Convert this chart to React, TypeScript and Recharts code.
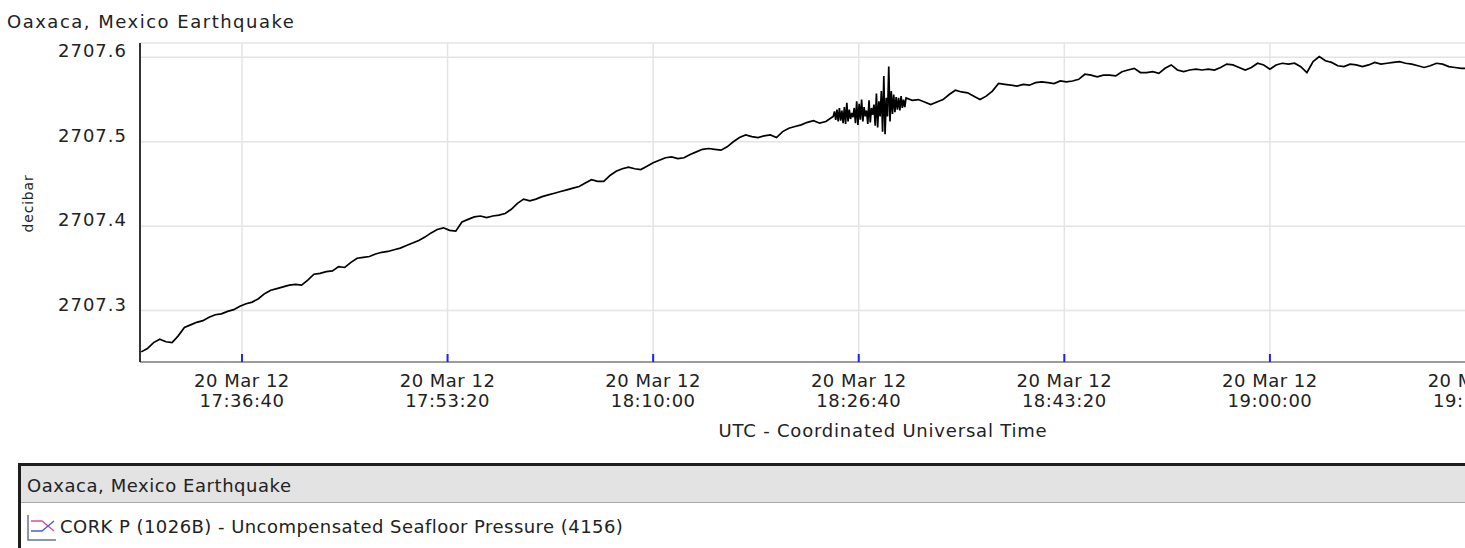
import React from "react";
import { LineChart, Line, XAxis, YAxis, CartesianGrid } from "recharts";

const FONT = "'DejaVu Sans', Verdana, sans-serif";

const CHART_TITLE = "Oaxaca, Mexico Earthquake";
const SERIES_NAME = "CORK P (1026B) - Uncompensated Seafloor Pressure (4156)";
const Y_LABEL = "decibar";
const X_LABEL = "UTC - Coordinated Universal Time";
const DATE_LABEL = "20 Mar 12";

// time axis is seconds of the day (UTC), 20 Mar 2012
const X_DOMAIN: [number, number] = [62904, 70132];
const X_TICKS = [63400, 64400, 65400, 66400, 67400, 68400, 69400];
const Y_DOMAIN: [number, number] = [2707.239, 2707.617];
const Y_TICKS = [2707.3, 2707.4, 2707.5, 2707.6];

// slow rise before the shaking, one sample per 30 s
const PRE_START = 62910;
const PRE_STEP = 30;
const preQuake = [
  2707.251, 2707.255, 2707.262, 2707.266, 2707.263, 2707.262, 2707.27, 2707.28, 2707.283, 2707.286,
  2707.288, 2707.292, 2707.295, 2707.296, 2707.299, 2707.301, 2707.305, 2707.308, 2707.31, 2707.314,
  2707.32, 2707.324, 2707.326, 2707.328, 2707.33, 2707.331, 2707.33, 2707.336, 2707.343, 2707.344,
  2707.346, 2707.347, 2707.352, 2707.351, 2707.357, 2707.362, 2707.363, 2707.364, 2707.367, 2707.369,
  2707.37, 2707.372, 2707.374, 2707.377, 2707.38, 2707.383, 2707.387, 2707.392, 2707.396, 2707.398,
  2707.395, 2707.394, 2707.405, 2707.408, 2707.411, 2707.412, 2707.41, 2707.412, 2707.413, 2707.415,
  2707.42, 2707.427, 2707.432, 2707.43, 2707.432, 2707.435, 2707.437, 2707.439, 2707.441, 2707.443,
  2707.445, 2707.447, 2707.451, 2707.455, 2707.453, 2707.453, 2707.46, 2707.465, 2707.468, 2707.47,
  2707.468, 2707.467, 2707.471, 2707.475, 2707.478, 2707.481, 2707.482, 2707.48, 2707.481, 2707.485,
  2707.488, 2707.491, 2707.492, 2707.491, 2707.49, 2707.494, 2707.5, 2707.505, 2707.508, 2707.506,
  2707.505, 2707.507, 2707.508, 2707.505, 2707.512, 2707.516, 2707.518, 2707.52, 2707.523, 2707.525,
  2707.522, 2707.524, 2707.529,
];

// seismic oscillation, one sample per 6 s
const QUAKE_START = 66276;
const QUAKE_STEP = 6;
const quake = [
  2707.53, 2707.536, 2707.526, 2707.538, 2707.524, 2707.54, 2707.525, 2707.537, 2707.522, 2707.541,
  2707.521, 2707.546, 2707.524, 2707.538, 2707.527, 2707.534, 2707.529, 2707.54, 2707.522, 2707.548,
  2707.52, 2707.545, 2707.526, 2707.55, 2707.524, 2707.541, 2707.53, 2707.537, 2707.521, 2707.549,
  2707.523, 2707.54, 2707.532, 2707.544, 2707.519, 2707.557, 2707.517, 2707.548, 2707.53, 2707.56,
  2707.512, 2707.578, 2707.509, 2707.552, 2707.53, 2707.589, 2707.524, 2707.56, 2707.533, 2707.556,
  2707.535, 2707.553, 2707.538, 2707.552, 2707.537, 2707.554, 2707.54, 2707.55, 2707.541, 2707.552,
];

// levelling off afterwards, one sample per 30 s
const POST_START = 66660;
const POST_STEP = 30;
const postQuake = [
  2707.549, 2707.55, 2707.547, 2707.544, 2707.547, 2707.55, 2707.556, 2707.561, 2707.559, 2707.558,
  2707.554, 2707.55, 2707.554, 2707.56, 2707.569, 2707.568, 2707.567, 2707.566, 2707.568, 2707.567,
  2707.57, 2707.571, 2707.57, 2707.569, 2707.572, 2707.571, 2707.572, 2707.574, 2707.58, 2707.579,
  2707.577, 2707.579, 2707.579, 2707.578, 2707.583, 2707.585, 2707.587, 2707.582, 2707.582, 2707.583,
  2707.581, 2707.587, 2707.591, 2707.585, 2707.583, 2707.585, 2707.586, 2707.585, 2707.586, 2707.585,
  2707.588, 2707.592, 2707.591, 2707.588, 2707.585, 2707.588, 2707.593, 2707.591, 2707.586, 2707.591,
  2707.593, 2707.592, 2707.593, 2707.589, 2707.582, 2707.595, 2707.601, 2707.596, 2707.594, 2707.59,
  2707.589, 2707.592, 2707.591, 2707.589, 2707.591, 2707.594, 2707.592, 2707.593, 2707.594, 2707.595,
  2707.593, 2707.592, 2707.59, 2707.588, 2707.59, 2707.593, 2707.592, 2707.589, 2707.588, 2707.587,
  2707.587, 2707.586,
];

type Row = { t: number; p: number };

function buildRows(): Row[] {
  const rows: Row[] = [];
  preQuake.forEach((p, i) => rows.push({ t: PRE_START + i * PRE_STEP, p }));
  quake.forEach((p, i) => rows.push({ t: QUAKE_START + i * QUAKE_STEP, p }));
  postQuake.forEach((p, i) => rows.push({ t: POST_START + i * POST_STEP, p }));
  return rows;
}

const data = buildRows();

function formatClock(sec: number): string {
  const pad = (n: number) => String(n).padStart(2, "0");
  const h = Math.floor(sec / 3600);
  const m = Math.floor((sec % 3600) / 60);
  const s = sec % 60;
  return `${pad(h)}:${pad(m)}:${pad(s)}`;
}

function TimeTick(props: any) {
  const { x, y, payload } = props;
  const axisY = y - 8;
  return (
    <g>
      <line x1={x} x2={x} y1={axisY} y2={axisY - 8} stroke="#1f1fff" strokeWidth={2} />
      <text textAnchor="middle" fontSize={18} fill="#222" style={{ letterSpacing: 0.5 }}>
        <tspan x={x} y={axisY + 25}>{DATE_LABEL}</tspan>
        <tspan x={x} y={axisY + 45}>{formatClock(payload.value)}</tspan>
      </text>
    </g>
  );
}

function ValueTick(props: any) {
  const { x, y, payload } = props;
  return (
    <text x={x} y={y} textAnchor="end" fontSize={18} fill="#222" style={{ letterSpacing: 1 }}>
      {Number(payload.value).toFixed(1)}
    </text>
  );
}

function YLabel(props: any) {
  const vb = props.viewBox || { y: 43, height: 319 };
  const cx = 28;
  const cy = vb.y + vb.height / 2 + 1;
  return (
    <text
      x={cx}
      y={cy}
      transform={`rotate(-90 ${cx} ${cy})`}
      textAnchor="middle"
      dominantBaseline="central"
      fontSize={14}
      fill="#222"
      style={{ letterSpacing: 0.8 }}
    >
      {Y_LABEL}
    </text>
  );
}

function LegendPanel() {
  return (
    <svg width={1465} height={93} style={{ position: "absolute", left: 0, top: 455 }}>
      <rect x={19.5} y={9.5} width={1500} height={200} fill="#fff" stroke="#1e1e1e" strokeWidth={3} />
      <rect x={21} y={11} width={1500} height={36} fill="#e3e3e3" />
      <line x1={21} x2={1465} y1={47.5} y2={47.5} stroke="#a9a9a9" strokeWidth={1} />
      <text x={27} y={36.7} fontSize={18} fill="#222" style={{ letterSpacing: 0.55 }}>
        {CHART_TITLE}
      </text>
      <polyline points="28,60 28,85 56,85" fill="none" stroke="#6272a4" strokeWidth={1.5} />
      <polyline points="31,66 42,66 54,76" fill="none" stroke="#e0508a" strokeWidth={1.5} />
      <polyline points="31,76 42,76 54,66" fill="none" stroke="#4a5ee0" strokeWidth={1.5} />
      <text x={60} y={78} fontSize={18} fill="#222" style={{ letterSpacing: 0.45 }}>
        {SERIES_NAME}
      </text>
    </svg>
  );
}

export default function App() {
  return (
    <div
      style={{
        position: "fixed",
        left: 0,
        top: 0,
        width: 1465,
        height: 548,
        overflow: "hidden",
        background: "#fff",
        fontFamily: FONT,
      }}
    >
      <svg width={400} height={40} style={{ position: "absolute", left: 0, top: 0 }}>
        <text x={7} y={28.3} fontSize={18} fill="#222" style={{ letterSpacing: 1.5 }}>
          {CHART_TITLE}
        </text>
      </svg>
      <div style={{ position: "absolute", left: 0, top: 0 }}>
        <LineChart
          width={1636}
          height={450}
          data={data}
          margin={{ top: 43, right: 10, bottom: 8, left: 0 }}
        >
          <CartesianGrid stroke="#e4e4e4" strokeWidth={1.5} />
          <XAxis
            dataKey="t"
            type="number"
            domain={X_DOMAIN}
            ticks={X_TICKS}
            interval={0}
            height={80}
            tickSize={8}
            tickMargin={0}
            tickLine={false}
            axisLine={{ stroke: "#808080", strokeWidth: 1.5 }}
            tick={<TimeTick />}
            label={{
              value: X_LABEL,
              position: "insideBottom",
              offset: 5,
              fontSize: 18,
              fill: "#222",
              style: { letterSpacing: 0.8 },
            }}
          />
          <YAxis
            type="number"
            domain={Y_DOMAIN}
            ticks={Y_TICKS}
            width={140}
            tickSize={6}
            tickMargin={7}
            tickLine={false}
            axisLine={{ stroke: "#333", strokeWidth: 2 }}
            tick={<ValueTick />}
            label={<YLabel />}
          />
          <Line
            type="linear"
            dataKey="p"
            stroke="#000"
            strokeWidth={1.7}
            dot={false}
            activeDot={false}
            isAnimationActive={false}
          />
        </LineChart>
      </div>
      <LegendPanel />
    </div>
  );
}
